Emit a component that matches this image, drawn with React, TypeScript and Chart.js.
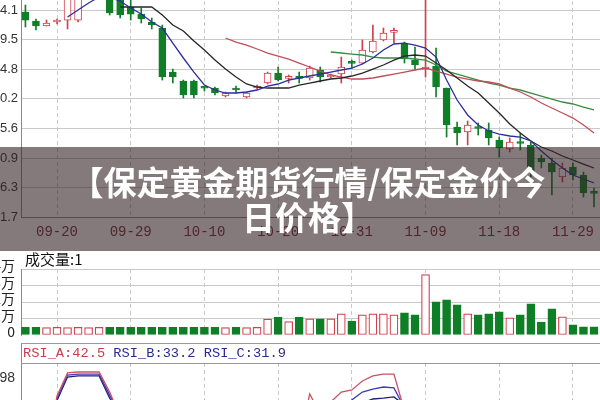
import React, { useEffect, useRef } from 'react';
import { Chart, registerables } from 'chart.js';

Chart.register(...registerables);

// ---------- data ----------
const dateTickIndex = [3, 10, 17, 24, 31, 38, 45, 52];
const dateLabels = ['09-20', '09-29', '10-10', '10-20', '10-31', '11-09', '11-18', '11-29'];
const priceTicks = [294.1, 289.5, 284.8, 280.2, 275.6, 270.9, 266.3, 261.7];

const openPrice = [
  293.79, 292.38, 291.6, 292.22, 292.53, 292.53, 298.8, 299.9, 298.8, 296.45,
  294.57, 293.47, 292.22, 291.28, 284.39, 282.99, 282.99, 281.93, 281.89, 280.64,
  281.89, 280.48, 281.89, 282.67, 284.24, 283.4, 283.5, 283.46, 284.71, 283.61,
  284.08, 285.85, 285.8, 287.53, 289.41, 290.6, 288.93, 286.27, 284.86, 285.33,
  281.89, 275.79, 275.0, 275.7, 275.32, 273.75, 272.34, 273.35, 272.97, 270.93,
  270.15, 267.96, 269.53, 268.27, 265.55,
];
const closePrice = [
  292.53, 291.6, 292.07, 292.3, 296.92, 298.01, 301.93, 302.71, 293.63, 293.32,
  293.47, 292.69, 291.75, 283.61, 283.61, 280.8, 280.8, 281.85, 281.11, 281.11,
  281.58, 281.11, 282.2, 284.24, 283.14, 283.5, 283.4, 285.02, 283.61, 283.93,
  285.18, 285.75, 287.84, 289.25, 290.5, 290.7, 286.43, 285.49, 285.18, 282.05,
  276.1, 274.85, 276.1, 275.55, 274.07, 272.5, 273.44, 273.2, 268.74, 270.31,
  268.74, 269.37, 268.27, 265.46, 265.4,
];
const highPrice = [
  294.88, 292.69, 292.53, 292.69, 297.54, 298.8, 302.5, 303.2, 299.3, 296.92,
  295.67, 294.41, 292.85, 291.75, 284.86, 283.14, 283.14, 282.2, 282.05, 281.27,
  282.2, 281.27, 282.36, 284.39, 285.18, 283.93, 284.39, 285.33, 285.18, 284.08,
  286.74, 286.27, 289.41, 291.75, 291.28, 291.28, 289.09, 288.31, 296.5, 288.15,
  281.89, 276.56, 276.73, 276.41, 276.41, 274.22, 274.07, 274.85, 273.44, 271.4,
  270.93, 270.15, 270.15, 268.74, 266.24,
];
const lowPrice = [
  291.44, 290.97, 291.6, 291.91, 291.13, 292.22, 298.3, 299.5, 293.32, 292.85,
  292.53, 292.07, 291.13, 283.14, 282.67, 280.33, 280.33, 281.42, 280.8, 280.48,
  281.11, 280.33, 281.73, 282.52, 282.99, 282.67, 282.67, 283.14, 282.83, 283.46,
  282.67, 285.02, 285.65, 287.37, 289.25, 288.93, 285.8, 284.71, 283.61, 280.48,
  274.22, 272.97, 272.97, 274.53, 272.97, 271.09, 271.88, 272.19, 267.96, 269.37,
  265.14, 267.18, 267.49, 264.83, 263.27,
];

const ma5Start = 4;
const ma5 = [
  293.0, 294.1, 295.2, 296.13, 296.13, 295.51, 294.41, 293.47, 292.22, 291.28,
  288.93, 286.59, 284.39, 282.36, 281.58, 281.11, 281.11, 281.27, 281.58, 282.2,
  282.52, 283.14, 283.46, 283.77, 284.08, 284.39, 284.71, 285.02, 285.65, 286.59,
  287.84, 288.78, 288.93, 288.62, 288.15, 286.74, 283.14, 280.01, 277.67, 276.1,
  275.16, 274.69, 274.38, 274.22, 273.6, 272.03, 270.62, 269.37, 268.27, 267.65,
  267.02,
];
const ma10Start = 9;
const ma10 = [
  294.57, 294.57, 294.57, 294.57, 293.32, 291.75, 290.81, 289.25, 287.84, 286.27,
  284.86, 283.61, 282.52, 282.05, 281.89, 281.89, 281.89, 282.36, 282.67, 282.99,
  283.3, 283.46, 283.77, 284.24, 284.86, 285.49, 286.27, 286.9, 287.06, 286.9,
  285.8, 284.71, 283.46, 282.2, 281.11, 279.54, 277.98, 276.26, 274.85, 273.6,
  272.66, 272.03, 271.25, 270.62, 269.99, 269.37,
];
const ma20Start = 19;
const ma20 = [
  289.72, 289.09, 288.62, 288.0, 287.37, 286.9, 286.43, 285.8, 285.18, 284.55,
  283.93, 283.61, 283.3, 283.3, 283.46, 283.77, 284.08, 284.39, 284.71, 285.02,
  284.55, 284.08, 283.61, 283.3, 282.99, 282.83, 282.52, 281.89, 281.27, 280.48,
  279.54, 278.76, 277.98, 277.19, 276.1, 274.85,
];
const ma30Start = 29;
const ma30 = [
  287.53, 287.37, 287.21, 287.06, 286.74, 286.59, 286.59, 286.59, 286.43, 286.27,
  285.49, 284.55, 284.08, 283.61, 283.14, 282.67, 282.36, 281.89, 281.58, 281.11,
  280.64, 280.17, 279.7, 279.39, 278.91, 278.45,
];

// volume in 万
const volume = [
  0.47, 0.46, 0.45, 0.46, 0.45, 0.46, 0.45, 0.46, 0.47, 0.46,
  0.47, 0.46, 0.46, 0.47, 0.46, 0.47, 0.46, 0.47, 0.46, 0.45,
  0.46, 0.45, 0.46, 0.96, 1.08, 0.81, 1.08, 0.98, 0.98, 0.98,
  1.28, 0.85, 1.22, 1.28, 1.28, 1.22, 1.34, 1.22, 3.66, 2.01,
  2.13, 1.83, 1.28, 1.22, 1.28, 1.4, 1.04, 1.22, 1.89, 0.79,
  1.59, 1.1, 0.61, 0.49, 0.49,
];
const volumeTicks = [0, 1, 2, 3, 4];
const volumeTickLabels = ['0', '1万', '2万', '3万', '4万'];

const rsiA = [
  55, 50, 72, 92, 99.7, 100, 100, 100, 93.3, 85,
  78, 70, 64, 30, 28, 22, 20, 22, 20, 30,
  28, 40, 52, 70, 62, 68, 76, 92.7, 86, 90,
  93.3, 94, 97, 98.7, 99.3, 99.3, 87, 78, 80, 55,
  30, 27, 35, 32, 28, 22, 30, 28, 25, 30,
  28, 45, 42, 40, 42.5,
];
const rsiB = [
  58, 55, 65, 91.3, 99, 99.3, 99.3, 99.3, 92.3, 86,
  80, 74, 68, 40, 38, 32, 30, 31, 30, 34,
  33, 40, 48, 60, 56, 60, 66, 75, 72, 76,
  82, 90.7, 93.3, 94.3, 95, 94.7, 88, 80, 81, 62,
  42, 40, 44, 42, 39, 34, 38, 37, 30, 33,
  31, 38, 35, 32, 33.2,
];
const rsiC = [
  60, 58, 62, 90.5, 98.3, 98.7, 98.7, 98.7, 91.3, 86.5,
  82, 77, 72, 45, 43, 38, 36, 37, 36, 39,
  38, 43, 49, 58, 55, 58, 62, 68, 67, 70,
  74, 80, 89.7, 91, 91.3, 91.7, 89, 82, 83, 68,
  48, 46, 48, 46, 43, 38, 41, 40, 34, 36,
  34, 38, 35, 32, 31.9,
];
const rsiTicks = [98];
const rsiLast = { a: '42.5', b: '33.2', c: '31.9' };

// ---------- styles ----------
const RED = '#d23f4d';
const GREEN = '#0f7f27';
const GRID = '#c9c9c9';
const AXIS = '#8a8a8a';
const X_MIN = -0.42;
const X_MAX = 54.57;
const SHIFT = 30;
const CW = 630;

const isUp = (i: number) => closePrice[i] >= openPrice[i];
const idx = openPrice.map((_, i) => i);
const series = (start: number, arr: number[]) => arr.map((v, k) => ({ x: start + k, y: v }));

function xAxis(showLabels: boolean): any {
  return {
    type: 'linear',
    min: X_MIN,
    max: X_MAX,
    offset: false,
    afterBuildTicks: (s: any) => {
      s.ticks = dateTickIndex.map((v) => ({ value: v }));
    },
    afterFit: (s: any) => {
      s.height = showLabels ? 30 : 0;
      s.paddingLeft = 0;
      s.paddingRight = 0;
    },
    grid: { color: GRID, drawTicks: false, lineWidth: 1, offset: false },
    border: { display: showLabels, color: AXIS, dash: [4, 3] },
    ticks: {
      display: showLabels,
      autoSkip: false,
      maxRotation: 0,
      padding: 7,
      color: '#7e2a33',
      font: { family: '"Liberation Mono", monospace', size: 14 },
      callback: (v: any) => {
        const k = dateTickIndex.indexOf(Number(v));
        return k >= 0 ? dateLabels[k] : '';
      },
    },
  };
}

function yAxis(min: number, max: number, ticks: number[], labelFn: (v: number) => string, extra: any = {}): any {
  return {
    min,
    max,
    afterBuildTicks: (s: any) => {
      s.ticks = ticks.map((v) => ({ value: v }));
    },
    afterFit: (s: any) => {
      s.width = SHIFT + 21;
      s.paddingTop = 0;
      s.paddingBottom = 0;
    },
    grid: {
      color: extra.hideZeroGrid
        ? (c: any) => (c.tick && c.tick.value === min ? 'rgba(0,0,0,0)' : GRID)
        : GRID,
      drawTicks: false,
      display: extra.grid !== false,
    },
    border: { display: true, color: AXIS },
    ticks: {
      autoSkip: false,
      padding: 3,
      color: '#333',
      font: { family: '"Liberation Sans", Arial, sans-serif', size: 13 },
      callback: (v: any) => labelFn(Number(v)),
      ...(extra.ticks || {}),
    },
  };
}

const baseOptions: any = {
  responsive: false,
  animation: false,
  devicePixelRatio: 1,
  layout: { padding: 0 },
  plugins: { legend: { display: false }, tooltip: { enabled: false } },
  events: [],
};

function priceConfig(): any {
  const candleColor = idx.map((i) => (isUp(i) ? RED : GREEN));
  const bodyFill = idx.map((i) => (isUp(i) ? '#ffffff' : GREEN));
  const line = (data: any, color: string) => ({
    type: 'line',
    data,
    borderColor: color,
    borderWidth: 1.3,
    pointRadius: 0,
    tension: 0,
    order: 0,
  });
  return {
    type: 'bar',
    data: {
      datasets: [
        line(series(ma5Start, ma5), '#2d2d9e'),
        line(series(ma10Start, ma10), '#262626'),
        line(series(ma20Start, ma20), '#c24d58'),
        line(series(ma30Start, ma30), '#3b8c3f'),
        {
          type: 'bar',
          data: idx.map((i) => ({ x: i, y: [openPrice[i], closePrice[i]] })),
          backgroundColor: bodyFill,
          borderColor: candleColor,
          borderWidth: 1,
          borderSkipped: false,
          barThickness: 7,
          minBarLength: 2,
          grouped: false,
          order: 1,
        },
        {
          type: 'bar',
          data: idx.map((i) => ({ x: i, y: [lowPrice[i], highPrice[i]] })),
          backgroundColor: candleColor,
          borderWidth: 0,
          barThickness: 1,
          grouped: false,
          order: 2,
        },
      ],
    },
    options: {
      ...baseOptions,
      scales: {
        x: xAxis(true),
        y: yAxis(261.7, 298.8, priceTicks, (v) => v.toFixed(1)),
      },
    },
  };
}

function volumeConfig(): any {
  return {
    type: 'bar',
    data: {
      datasets: [
        {
          data: idx.map((i) => ({ x: i, y: volume[i] })),
          backgroundColor: idx.map((i) => (isUp(i) ? '#ffffff' : GREEN)),
          borderColor: idx.map((i) => (isUp(i) ? RED : GREEN)),
          borderWidth: 1.2,
          borderSkipped: false,
          barThickness: 8,
          grouped: false,
        },
      ],
    },
    options: {
      ...baseOptions,
      layout: { padding: { top: 9, bottom: 8 } },
      scales: {
        x: xAxis(false),
        y: yAxis(0, 4, volumeTicks, (v) => volumeTickLabels[volumeTicks.indexOf(v)] ?? '', {
          hideZeroGrid: true,
          ticks: {
            padding: 6,
            labelOffset: -3,
            color: '#222',
            font: { family: '"Noto Sans CJK SC", sans-serif', size: 14 },
          },
        }),
      },
    },
  };
}

function rsiConfig(): any {
  const line = (arr: number[], color: string) => ({
    data: arr.map((v, i) => ({ x: i, y: v })),
    borderColor: color,
    borderWidth: 1.3,
    pointRadius: 0,
    tension: 0,
  });
  return {
    type: 'line',
    data: {
      datasets: [line(rsiA, '#cf4f63'), line(rsiB, '#3c3cb4'), line(rsiC, '#1f1f7a')],
    },
    options: {
      ...baseOptions,
      scales: {
        x: xAxis(false),
        y: yAxis(77, 103, rsiTicks, (v) => String(v), {
          grid: false,
          ticks: { padding: 6, font: { family: '"Liberation Sans", Arial, sans-serif', size: 14 } },
        }),
      },
    },
  };
}

function ChartCanvas({ make, top, height }: { make: () => any; top: number; height: number }) {
  const ref = useRef<HTMLCanvasElement | null>(null);
  useEffect(() => {
    if (!ref.current) return;
    const chart = new Chart(ref.current, make());
    return () => chart.destroy();
  }, [make]);
  return (
    <canvas
      ref={ref}
      width={CW}
      height={height}
      style={{ position: 'absolute', left: -SHIFT, top, width: CW, height }}
    />
  );
}

export default function App() {
  return (
    <div
      style={{
        position: 'fixed',
        left: 0,
        top: 0,
        width: 600,
        height: 400,
        overflow: 'hidden',
        background: '#ffffff',
      }}
    >
      <ChartCanvas make={priceConfig} top={-20} height={267} />
      <ChartCanvas make={volumeConfig} top={260} height={83} />
      <ChartCanvas make={rsiConfig} top={363} height={78} />

      <div
        style={{
          position: 'absolute',
          left: 25,
          top: 251,
          font: '15px "Noto Sans CJK SC", sans-serif',
          lineHeight: '15px',
          color: '#111',
          whiteSpace: 'nowrap',
        }}
      >
        成交量:1
      </div>

      <div
        style={{
          position: 'absolute',
          left: 21,
          top: 343,
          width: 579,
          height: 19,
          borderTop: '1px solid #9a9a9a',
          borderBottom: '1px solid #9a9a9a',
          borderLeft: '1px solid #8a8a8a',
          font: '13.7px "Liberation Mono", monospace',
          lineHeight: '19px',
          whiteSpace: 'pre',
          paddingLeft: 1,
        }}
      >
        <span style={{ color: '#cc3b4b' }}>{'RSI_A:' + rsiLast.a}</span>
        <span style={{ color: '#2a2a8c' }}>{' RSI_B:' + rsiLast.b}</span>
        <span style={{ color: '#2a2a8c' }}>{' RSI_C:' + rsiLast.c}</span>
      </div>

      <div
        style={{
          position: 'absolute',
          left: 0,
          top: 147,
          width: 600,
          height: 104,
          boxSizing: 'border-box',
          paddingLeft: 16,
          background: 'rgba(50,33,37,0.6)',
          display: 'flex',
          alignItems: 'center',
          justifyContent: 'center',
          color: '#ffffff',
          font: 'bold 33px "Noto Sans CJK SC", sans-serif',
          lineHeight: '35px',
          textAlign: 'center',
          zIndex: 5,
        }}
      >
        <div>
          【保定黄金期货行情/保定金价今
          <br />
          日价格】
        </div>
      </div>
    </div>
  );
}
